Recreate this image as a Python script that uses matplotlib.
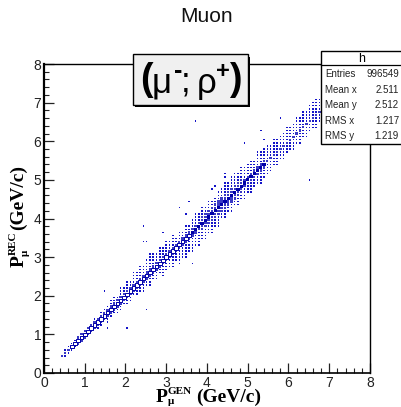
import matplotlib
matplotlib.use('Agg')
import matplotlib.pyplot as plt
from matplotlib.patches import Rectangle
from matplotlib.collections import PatchCollection

plt.rcParams['font.family'] = ['Liberation Sans', 'DejaVu Sans']

# histogram read by eye: 100 bins over 0-8, first filled column is bin 5
bin_width = 0.08
first_col = 5
below = [0, 1, 1, 1, 1, 1, 1, 1, 1, 1, 1, 2, 2, 1, 3, 2, 2, 3, 3, 2,
         3, 3, 2, 3, 3, 4, 3, 4, 3, 4, 3, 5, 4, 4, 5, 4, 6, 5, 6, 5,
         6, 5, 6, 5, 6, 5, 6, 5, 6, 4, 5, 4, 5, 4, 5, 4, 5, 4, 5, 4,
         4, 5, 4, 4, 4, 3, 4, 3, 4, 3, 3, 4, 3, 4, 3, 4, 3, 3, 4, 3,
         3, 2, 2, 1, 1]
above = [0, 1, 1, 1, 1, 1, 1, 1, 1, 1, 2, 1, 2, 2, 2, 3, 3, 2, 4, 3,
         4, 3, 5, 4, 5, 4, 5, 6, 5, 4, 5, 4, 5, 4, 5, 3, 4, 3, 4, 3,
         4, 5, 4, 5, 4, 5, 4, 4, 5, 5, 6, 5, 6, 6, 5, 6, 5, 5, 5, 4,
         6, 5, 5, 5, 4, 5, 4, 4, 4, 5, 4, 4, 5, 4, 5, 4, 5, 5, 5, 4,
         4, 3, 3, 3, 2]
core = [0, 0, 0, 0, 0, 1, 1, 1, 1, 1, 1, 1, 1, 1, 1, 1, 1, 1, 1, 1,
        1, 1, 1, 1, 1, 1, 1, 1, 1, 1, 1, 1, 1, 1, 1, 1, 1, 1, 1, 1,
        1, 1, 1, 2, 2, 2, 2, 2, 2, 2, 2, 2, 2, 2, 2, 2, 1, 1, 1, 1,
        1, 1, 1, 0, 0, 0, 0, 0, 0, 0, 0, 0, 0, 0, 0, 0, 0, 0, 0, 0,
        0, 0, 0, 0, 0]
# columns where the diagonal box looks like an open ring
ring_start = 8
ring_end = 44

outlier_x = [3.76, 4.94, 6.54, 5.80, 5.33, 5.43, 4.45, 4.45, 4.22, 4.13, 2.46, 2.46, 2.54,
             1.47, 2.04, 2.53, 2.92, 1.57, 3.64, 3.56, 3.32, 3.49]
outlier_y = [6.53, 5.96, 5.00, 6.60, 6.27, 6.03, 5.05, 5.13, 4.84, 4.74, 3.81, 3.39, 3.39,
             2.12, 1.17, 1.63, 3.63, 1.17, 2.85, 4.43, 4.27, 4.12]

title = 'Muon'
ticks = [0, 1, 2, 3, 4, 5, 6, 7, 8]
stats_names = ['Entries', 'Mean x', 'Mean y', 'RMS x', 'RMS y']
stats_values = ['996549', '2.511', '2.512', '1.217', '1.219']

W, H = 402, 407
fig = plt.figure(figsize=(W / 100, H / 100), dpi=100)
ax = fig.add_axes([44 / W, 1 - 373 / H, 326 / W, 309 / H])
ax.set_xlim(0, 8)
ax.set_ylim(0, 8)


def box(i, j, frac):
    s = bin_width * frac
    return Rectangle(((i + 0.5) * bin_width - s / 2, (j + 0.5) * bin_width - s / 2), s, s)


small, medium, rings, solid = [], [], [], []
for k in range(len(below)):
    i = first_col + k
    for off in range(-below[k], above[k] + 1):
        if off == 0 and ring_start <= i <= ring_end:
            rings.append(box(i, i, 1.1))
        elif off == 0 and core[k] > 0:
            solid.append(box(i, i, 1.0))
        elif abs(off) <= core[k]:
            medium.append(box(i, i + off, 0.72))
        else:
            small.append(box(i, i + off, 0.48))
for x, y in zip(outlier_x, outlier_y):
    small.append(box(int(x / bin_width), int(y / bin_width), 0.48))

ax.add_collection(PatchCollection(small, facecolor='#1414c8', edgecolor='none'))
ax.add_collection(PatchCollection(medium, facecolor='#3a3ac4', edgecolor='none'))
ax.add_collection(PatchCollection(solid, facecolor='#0000a8', edgecolor='none'))
ax.add_collection(PatchCollection(rings, facecolor='white', edgecolor='#0000a8', linewidth=0.7))

ax.set_xticks(ticks)
ax.set_yticks(ticks)
ax.set_xticks([t / 5 for t in range(41)], minor=True)
ax.set_yticks([t / 5 for t in range(41)], minor=True)
ax.tick_params(which='major', direction='in', length=7.5, width=0.9, labelsize=10, pad=2, color='#222222',
               labelcolor='#222222')
ax.tick_params(which='minor', direction='in', length=3.8, width=0.8, color='#222222')
ax.spines['left'].set_linewidth(1.6)
ax.spines['bottom'].set_linewidth(1.2)
for s in ['top', 'right']:
    ax.spines[s].set_linewidth(1.0)

fig.text(207 / W, 1 - 16 / H, title, ha='center', va='center', fontsize=15, color='#111111')


def label_piece(txt, px, py, fs, rot=0):
    fig.text(px / W, 1 - py / H, txt, ha='center', va='center', fontsize=fs, rotation=rot,
             family='Liberation Serif', fontweight='bold')


# axis labels, placed piece by piece
label_piece('P', 162, 397, 14)
label_piece('GEN', 180, 392, 8)
label_piece('μ', 171, 402, 8)
label_piece('(GeV/c)', 229, 397, 14)
label_piece('P', 19, 261, 14, 90)
label_piece('REC', 13, 243, 8, 90)
label_piece('μ', 25, 253, 8, 90)
label_piece('(GeV/c)', 18, 198, 14, 90)


def px_rect(x0, y0, x1, y1, **kw):
    p = Rectangle((x0 / W, 1 - y1 / H), (x1 - x0) / W, (y1 - y0) / H, transform=fig.transFigure, **kw)
    fig.add_artist(p)


# pave with the decay channel
px_rect(135, 57, 250, 107, facecolor='black', edgecolor='none', zorder=5)
px_rect(133, 54, 248, 105, facecolor='#f0f0f0', edgecolor='black', linewidth=1.0, zorder=6)
pieces = [('(', 146, 80, 27, 'bold'), ('μ', 162, 83, 25, 'normal'), ('-', 178, 71, 18, 'bold'),
          (';', 186, 82, 25, 'normal'), ('ρ', 207, 83, 25, 'normal'), ('+', 223, 71, 17, 'bold'),
          (')', 235, 80, 27, 'bold')]
for txt, px, py, fs, wt in pieces:
    fig.text(px / W, 1 - py / H, txt, ha='center', va='center', fontsize=fs, fontweight=wt, zorder=7)

# stats box
px_rect(322.5, 52.5, 404, 145, facecolor='#404040', edgecolor='none', zorder=5)
px_rect(321.5, 51, 404, 143.5, facecolor='white', edgecolor='black', linewidth=1.0, zorder=6)
fig.add_artist(plt.Line2D([321.5 / W, 402 / W], [1 - 65 / H, 1 - 65 / H], color='black', linewidth=0.9, zorder=7))
fig.text(362 / W, 1 - 59 / H, 'h', ha='center', va='center', fontsize=9, zorder=7)
rows = [74, 90, 105, 121, 136]
for name, val, py in zip(stats_names, stats_values, rows):
    fig.text(325 / W, 1 - py / H, name, ha='left', va='center', fontsize=7, color='#222222', zorder=7)
    fig.text(399 / W, 1 - py / H, val, ha='right', va='center', fontsize=7, color='#222222', zorder=7)

fig.savefig('out.png', dpi=100)
